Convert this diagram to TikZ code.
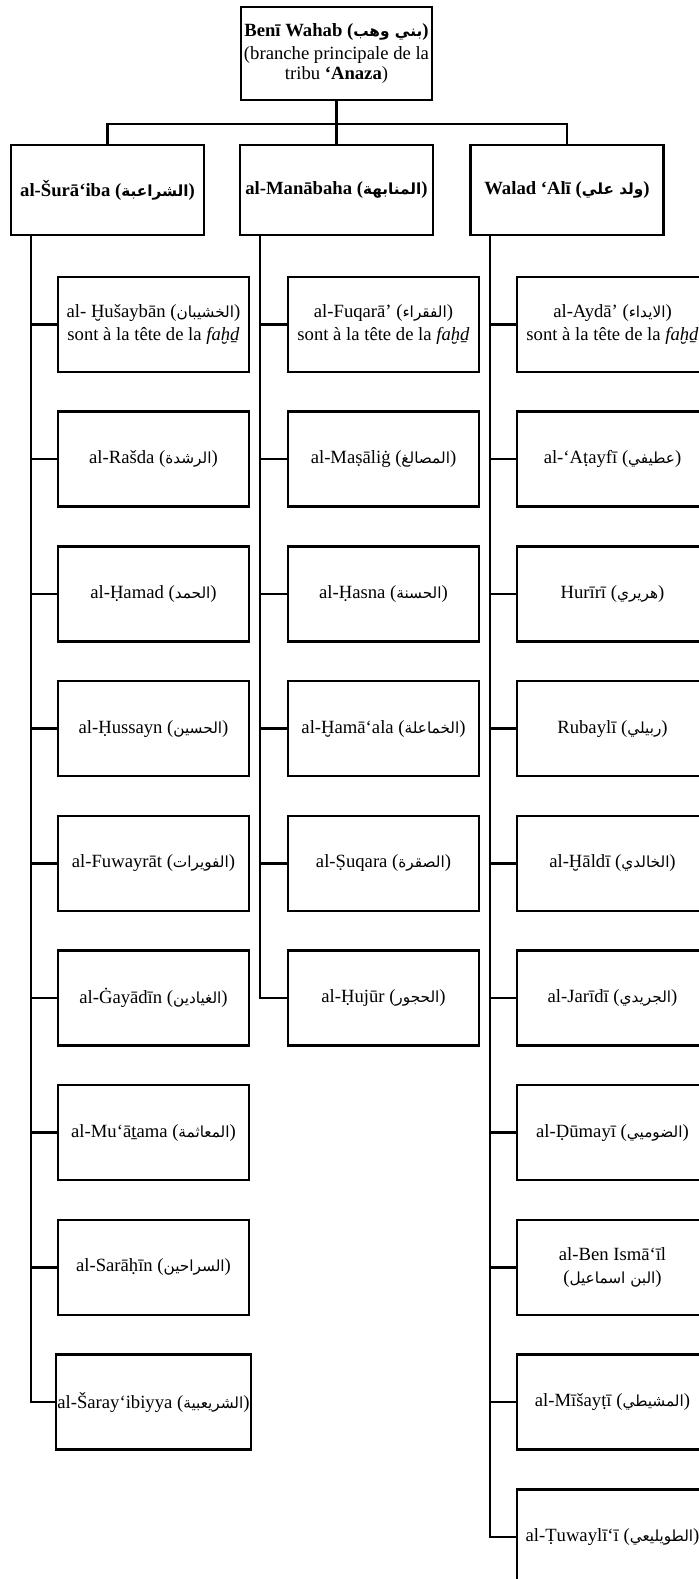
\documentclass[tikz,border=0pt]{standalone}
\usepackage{fontspec}
\setmainfont{Liberation Serif}
\newfontfamily\arabicfont[Script=Arabic,Scale=0.82]{DejaVu Sans}
\TeXXeTstate=1
\newcommand\arab[1]{({\arabicfont\beginR #1\endR})}
\begin{document}
\begin{tikzpicture}[x=0.75pt,y=-0.75pt,line width=1.9pt,
  box/.style={draw,line width=1.9pt,minimum width=143.25pt,minimum height=71.25pt,
    align=center,inner sep=1pt,font=\fontsize{14}{17}\selectfont},
  hdr/.style={box,minimum width=144.75pt,minimum height=67.5pt,
    font=\fontsize{14}{17}\selectfont\bfseries},
  topbox/.style={box,minimum width=143.25pt,minimum height=69.75pt},
  link/.style={draw,line width=1.9pt}]
\clip (0,0) rectangle (699,1579);
% root
\node[topbox] (root) at (336.5,53.5) {\textbf{Benī Wahab \arab{بني وهب}}\\(branche principale de la\\[-2pt]tribu \textbf{‘Anaza})};
% headers
\node[hdr] (hL) at (107.5,190) {al-Šurā‘iba \arab{الشراعبة}};
\node[hdr] (hM) at (336.5,190) {al-Manābaha \arab{المنابهة}};
\node[hdr] (hR) at (567,190) {Walad ‘Alī \arab{ولد علي}};
\coordinate (j) at (336.5,124);
\draw[link] (root.south) -- (j);
\draw[link] (hL.north) |- (j) -| (hR.north);
\draw[link] (j) -- (hM.north);
% left column
\node[box] (L1) at (153.5,324.5) {al- Ḫušaybān \arab{الخشيبان}\\sont à la tête de la \textit{faḫḏ}};
\node[box] (L2) at (153.5,459.2) {al-Rašda \arab{الرشدة}};
\node[box] (L3) at (153.5,593.9) {al-Ḥamad \arab{الحمد}};
\node[box] (L4) at (153.5,728.6) {al-Ḥussayn \arab{الحسين}};
\node[box] (L5) at (153.5,863.3) {al-Fuwayrāt \arab{الفويرات}};
\node[box] (L6) at (153.5,998.0) {al-Ġayādīn \arab{الغيادين}};
\node[box] (L7) at (153.5,1132.7) {al-Mu‘āṯama \arab{المعاثمة}};
\node[box] (L8) at (153.5,1267.4) {al-Sarāḥīn \arab{السراحين}};
\node[box] (L9) at (153.5,1402.1) {al-Šaray‘ibiyya \arab{الشريعبية}};
% middle column
\node[box] (M1) at (383.5,324.5) {al-Fuqarā’ \arab{الفقراء}\\sont à la tête de la \textit{faḫḏ}};
\node[box] (M2) at (383.5,459.2) {al-Maṣāliġ \arab{المصالغ}};
\node[box] (M3) at (383.5,593.9) {al-Ḥasna \arab{الحسنة}};
\node[box] (M4) at (383.5,728.6) {al-Ḫamā‘ala \arab{الخماعلة}};
\node[box] (M5) at (383.5,863.3) {al-Ṣuqara \arab{الصقرة}};
\node[box] (M6) at (383.5,998.0) {al-Ḥujūr \arab{الحجور}};
% right column
\node[box] (R1) at (612.5,324.5) {al-Aydā’ \arab{الايداء}\\sont à la tête de la \textit{faḫḏ}};
\node[box] (R2) at (612.5,459.2) {al-‘Aṭayfī \arab{عطيفي}};
\node[box] (R3) at (612.5,593.9) {Hurīrī \arab{هريري}};
\node[box] (R4) at (612.5,728.6) {Rubaylī \arab{ربيلي}};
\node[box] (R5) at (612.5,863.3) {al-Ḫāldī \arab{الخالدي}};
\node[box] (R6) at (612.5,998.0) {al-Jarīdī \arab{الجريدي}};
\node[box] (R7) at (612.5,1132.7) {al-Ḍūmayī \arab{الضوميي}};
\node[box] (R8) at (612.5,1267.4) {al-Ben Ismā‘īl\\\arab{البن اسماعيل}};
\node[box] (R9) at (612.5,1402.1) {al-Mīšayṭī \arab{المشيطي}};
\node[box] (R10) at (612.5,1536.8) {al-Ṭuwaylī‘ī \arab{الطويليعي}};
% trunks
\coordinate (tL) at (31,235);
\coordinate (tM) at (260,235);
\coordinate (tR) at (490,235);
\draw[link] (tL) |- (L9.west);
\foreach \n in {1,...,8} \draw[link] (L\n.west) -- (L\n.west -| tL);
\draw[link] (tM) |- (M6.west);
\foreach \n in {1,...,5} \draw[link] (M\n.west) -- (M\n.west -| tM);
\draw[link] (tR) |- (R10.west);
\foreach \n in {1,...,9} \draw[link] (R\n.west) -- (R\n.west -| tR);
\end{tikzpicture}
\end{document}
